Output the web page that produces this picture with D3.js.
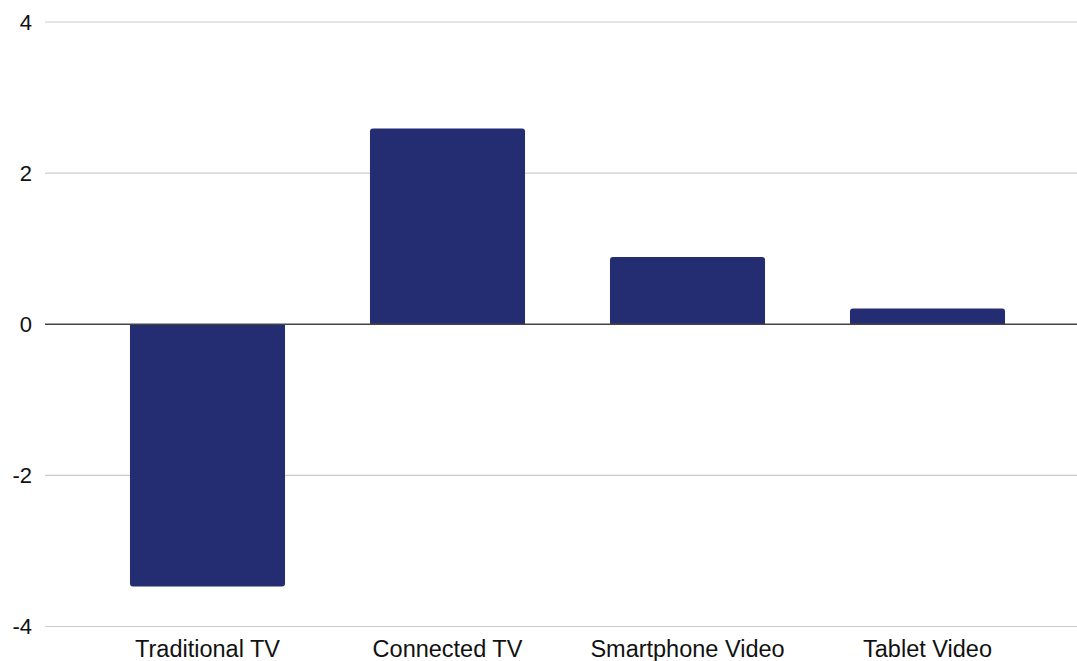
<!DOCTYPE html>
<html>
<head>
<meta charset="utf-8">
<script src="https://cdn.jsdelivr.net/npm/d3@7"></script>
<style>
  html, body { margin: 0; padding: 0; background: #fff; }
  svg { display: block; font-family: "Liberation Sans", Arial, Helvetica, sans-serif; }
</style>
</head>
<body>
<svg id="chart" width="1077" height="661"></svg>
<script>
// Change by viewing platform
const categories = ["Traditional TV", "Connected TV", "Smartphone Video", "Tablet Video"];
const values = [-3.47, 2.59, 0.89, 0.21];
const yTicks = [-4, -2, 0, 2, 4];

const gridLeft = 45, gridRight = 1077;
const svg = d3.select("#chart");

const y = d3.scaleLinear().domain([-4, 4]).range([626.5, 22]);
const x = d3.scaleBand()
  .domain(categories)
  .range([87.5, 1047.5])
  .paddingInner(0.354)
  .paddingOuter(0.177);

// horizontal gridlines
svg.append("g").selectAll("line")
  .data(yTicks.filter(d => d !== 0))
  .join("line")
  .attr("x1", gridLeft).attr("x2", gridRight)
  .attr("y1", d => y(d)).attr("y2", d => y(d))
  .attr("stroke", "#cccccc").attr("stroke-width", 1.2);

// y tick labels (plain hyphen for negatives)
svg.append("g").selectAll("text")
  .data(yTicks)
  .join("text")
  .attr("x", 32).attr("y", d => y(d))
  .attr("text-anchor", "end")
  .attr("dominant-baseline", "central")
  .attr("font-size", 22)
  .attr("fill", "#111")
  .text(d => String(d));

// bars: rounded on the outer end only
const r = 3;
function barPath(d) {
  const x0 = x(d.c), x1 = x0 + x.bandwidth();
  const y0 = y(0), y1 = y(d.v);
  if (d.v >= 0) {
    return `M${x0},${y0}V${y1 + r}Q${x0},${y1} ${x0 + r},${y1}H${x1 - r}Q${x1},${y1} ${x1},${y1 + r}V${y0}Z`;
  }
  return `M${x0},${y0}V${y1 - r}Q${x0},${y1} ${x0 + r},${y1}H${x1 - r}Q${x1},${y1} ${x1},${y1 - r}V${y0}Z`;
}
svg.append("g").selectAll("path")
  .data(categories.map((c, i) => ({ c, v: values[i] })))
  .join("path")
  .attr("d", barPath)
  .attr("fill", "#252d72");

// zero baseline
svg.append("line")
  .attr("x1", gridLeft).attr("x2", gridRight)
  .attr("y1", y(0)).attr("y2", y(0))
  .attr("stroke", "#444").attr("stroke-width", 1.6);

// category labels
svg.append("g").selectAll("text")
  .data(categories)
  .join("text")
  .attr("x", d => x(d) + x.bandwidth() / 2)
  .attr("y", 657)
  .attr("text-anchor", "middle")
  .attr("font-size", 23.5)
  .attr("fill", "#111")
  .text(d => d);
</script>
</body>
</html>
